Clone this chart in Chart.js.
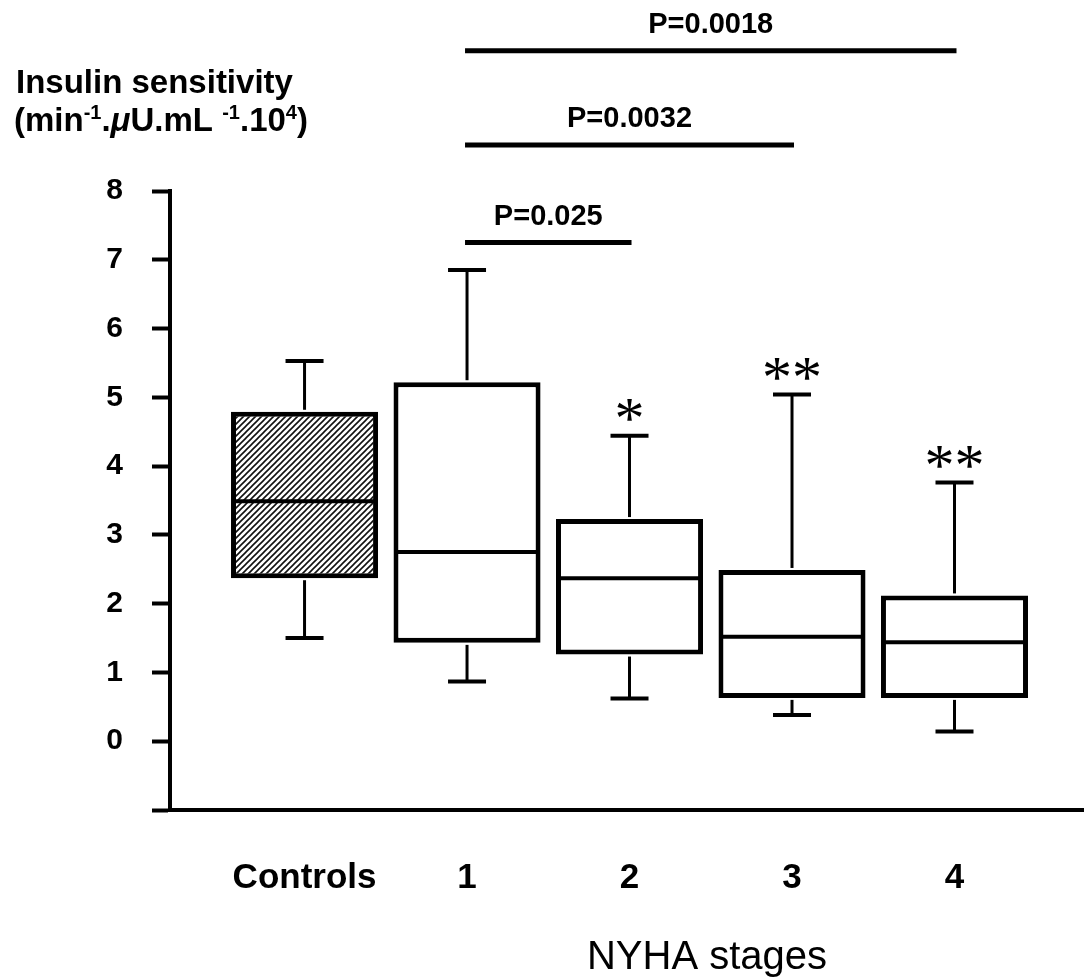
<!DOCTYPE html>
<html>
<head>
<meta charset="utf-8">
<script src="https://cdn.jsdelivr.net/npm/chart.js@4/dist/chart.umd.min.js"></script>
<style>
    html, body { margin: 0; padding: 0; background: #fff; }
    canvas { display: block; }
</style>
</head>
<body>
<canvas id="insulinChart" width="1084" height="979"></canvas>
<script>

// box plot values per group (insulin sensitivity)
const groups = ['Controls', '1', '2', '3', '4'];
const whiskerLow = [1.50, 0.87, 0.62, 0.38, 0.14];
const quartile1 = [2.37, 1.43, 1.26, 0.63, 0.63];
const medians = [3.49, 2.75, 2.37, 1.52, 1.44];
const quartile3 = [4.79, 5.22, 3.23, 2.49, 2.12];
const whiskerHigh = [5.53, 6.85, 4.44, 5.04, 3.76];
const starMarks = ['', '', '*', '**', '**'];

// significance brackets between NYHA stages
const pairFrom = [1, 1, 1];
const pairTo = [2, 3, 4];
const pairLevel = [7.25, 8.67, 10.04];
const pairText = ['P=0.025', 'P=0.0032', 'P=0.0018'];

const SANS = '"Liberation Sans", Arial, Helvetica, sans-serif';

document.addEventListener('DOMContentLoaded', function () {

    // diagonal hatching for the controls box
    function makeHatch() {
        const tile = document.createElement('canvas');
        tile.width = 6;
        tile.height = 6;
        const t = tile.getContext('2d');
        t.fillStyle = '#fff';
        t.fillRect(0, 0, 6, 6);
        t.strokeStyle = '#111';
        t.lineWidth = 1.6;
        t.beginPath();
        t.moveTo(-1, 7); t.lineTo(7, -1);
        t.moveTo(-4, 4); t.lineTo(4, -4);
        t.moveTo(2, 10); t.lineTo(10, 2);
        t.stroke();
        return t.createPattern(tile, 'repeat');
    }
    const hatch = makeHatch();

    function line(ctx, x1, y1, x2, y2, w) {
        ctx.lineWidth = w;
        ctx.beginPath();
        ctx.moveTo(x1, y1);
        ctx.lineTo(x2, y2);
        ctx.stroke();
    }

    const boxWhiskers = {
        id: 'boxWhiskers',
        afterDatasetsDraw(chart) {
            const {ctx, scales: {y}} = chart;
            const meta = chart.getDatasetMeta(0);
            ctx.save();
            ctx.strokeStyle = '#000';
            ctx.fillStyle = '#000';
            meta.data.forEach((bar, i) => {
                const half = bar.width / 2;
                const cx = bar.x;
                const yMed = y.getPixelForValue(medians[i]);
                const yQ1 = y.getPixelForValue(quartile1[i]);
                const yQ3 = y.getPixelForValue(quartile3[i]);
                const yLo = y.getPixelForValue(whiskerLow[i]);
                const yHi = y.getPixelForValue(whiskerHigh[i]);

                line(ctx, cx - half + 3, yMed, cx + half - 3, yMed, 4);

                line(ctx, cx, yQ3 - 2, cx, yHi, 3);
                line(ctx, cx - 19, yHi, cx + 19, yHi, 4);
                line(ctx, cx, yQ1 + 2, cx, yLo, 3);
                line(ctx, cx - 19, yLo, cx + 19, yLo, 4);

                if (starMarks[i]) {
                    ctx.font = '60px "Liberation Serif", "Times New Roman", serif';
                    ctx.textAlign = 'center';
                    ctx.textBaseline = 'alphabetic';
                    const m = ctx.measureText(starMarks[i]);
                    const centerY = yHi - 26;
                    const base = centerY + (m.actualBoundingBoxAscent - m.actualBoundingBoxDescent) / 2;
                    ctx.fillText(starMarks[i], cx, base);
                }
            });
            ctx.restore();
        }
    };

    const brackets = {
        id: 'brackets',
        afterDraw(chart) {
            const {ctx, scales: {x, y}} = chart;
            ctx.save();
            ctx.strokeStyle = '#000';
            ctx.fillStyle = '#000';
            ctx.font = 'bold 29px ' + SANS;
            ctx.textAlign = 'center';
            ctx.textBaseline = 'alphabetic';
            pairText.forEach((text, i) => {
                const x1 = x.getPixelForValue(pairFrom[i]);
                const x2 = x.getPixelForValue(pairTo[i]);
                const yl = y.getPixelForValue(pairLevel[i]);
                line(ctx, x1 - 2, yl, x2 + 2, yl, 5);
                ctx.fillText(text, (x1 + x2) / 2, yl - 18);
            });
            ctx.restore();
        }
    };

    // draws a run of text pieces, some raised as superscripts
    function drawRuns(ctx, runs, x, baseline) {
        let cx = x;
        runs.forEach(r => {
            ctx.font = r.font;
            ctx.fillText(r.text, cx, baseline - (r.rise || 0));
            cx += ctx.measureText(r.text).width;
        });
    }

    const axisTexts = {
        id: 'axisTexts',
        afterDraw(chart) {
            const {ctx} = chart;
            ctx.save();
            ctx.fillStyle = '#000';
            ctx.textAlign = 'left';
            ctx.textBaseline = 'alphabetic';

            const big = 'bold 33px ' + SANS;
            const sup = 'bold 20px ' + SANS;
            ctx.font = big;
            ctx.fillText('Insulin sensitivity', 16, 93);
            drawRuns(ctx, [
                {text: '(min', font: big},
                {text: '-1', font: sup, rise: 12},
                {text: '.', font: big},
                {text: 'μ', font: 'bold italic 33px ' + SANS},
                {text: 'U.mL ', font: big},
                {text: '-1', font: sup, rise: 12},
                {text: '.10', font: big},
                {text: '4', font: sup, rise: 12},
                {text: ')', font: big}
            ], 14, 131);

            ctx.font = '40px ' + SANS;
            ctx.textAlign = 'center';
            ctx.fillText('NYHA stages', 707, 969);
            ctx.restore();
        }
    };

    const ctx = document.getElementById('insulinChart').getContext('2d');

    new Chart(ctx, {
        type: 'bar',
        data: {
            datasets: [{
                label: 'Insulin sensitivity',
                data: groups.map((g, i) => ({x: i, y: [quartile1[i], quartile3[i]]})),
                backgroundColor: c => c.dataIndex === 0 ? hatch : '#fff',
                borderColor: '#000',
                borderWidth: 5,
                borderSkipped: false,
                categoryPercentage: 1,
                barPercentage: 0.905
            }]
        },
        options: {
            responsive: false,
            devicePixelRatio: 1,
            animation: false,
            layout: {
                padding: {top: 191, left: 0, right: 0, bottom: 0}
            },
            plugins: {
                legend: {display: false},
                tooltip: {enabled: false}
            },
            scales: {
                x: {
                    type: 'linear',
                    offset: false,
                    min: -0.828,
                    max: 4.797,
                    afterBuildTicks: scale => {
                        scale.ticks = groups.map((g, i) => ({value: i}));
                    },
                    afterFit: scale => { scale.height = 169; },
                    grid: {display: false, drawTicks: false, offset: false},
                    border: {display: true, color: '#000', width: 4},
                    ticks: {
                        autoSkip: false,
                        maxRotation: 0,
                        padding: 47,
                        color: '#000',
                        font: {family: SANS, size: 35, weight: 'bold'},
                        callback: v => groups[v] !== undefined ? groups[v] : ''
                    }
                },
                y: {
                    type: 'linear',
                    min: -1,
                    max: 8,
                    afterFit: scale => { scale.width = 170; },
                    grid: {
                        drawOnChartArea: false,
                        drawTicks: true,
                        tickLength: 18,
                        tickColor: '#000',
                        tickWidth: c => Number.isInteger(c.tick.value) ? 4 : 3,
                        tickBorderDash: c => Number.isInteger(c.tick.value) ? [] : [10, 100]
                    },
                    border: {display: true, color: '#000', width: 4},
                    ticks: {
                        stepSize: 0.5,
                        padding: 29,
                        color: '#000',
                        font: {family: SANS, size: 30, weight: 'bold'},
                        callback: v => (Number.isInteger(v) && v >= 0) ? v : ''
                    }
                }
            }
        },
        plugins: [boxWhiskers, brackets, axisTexts]
    });
});
</script>
</body>
</html>
